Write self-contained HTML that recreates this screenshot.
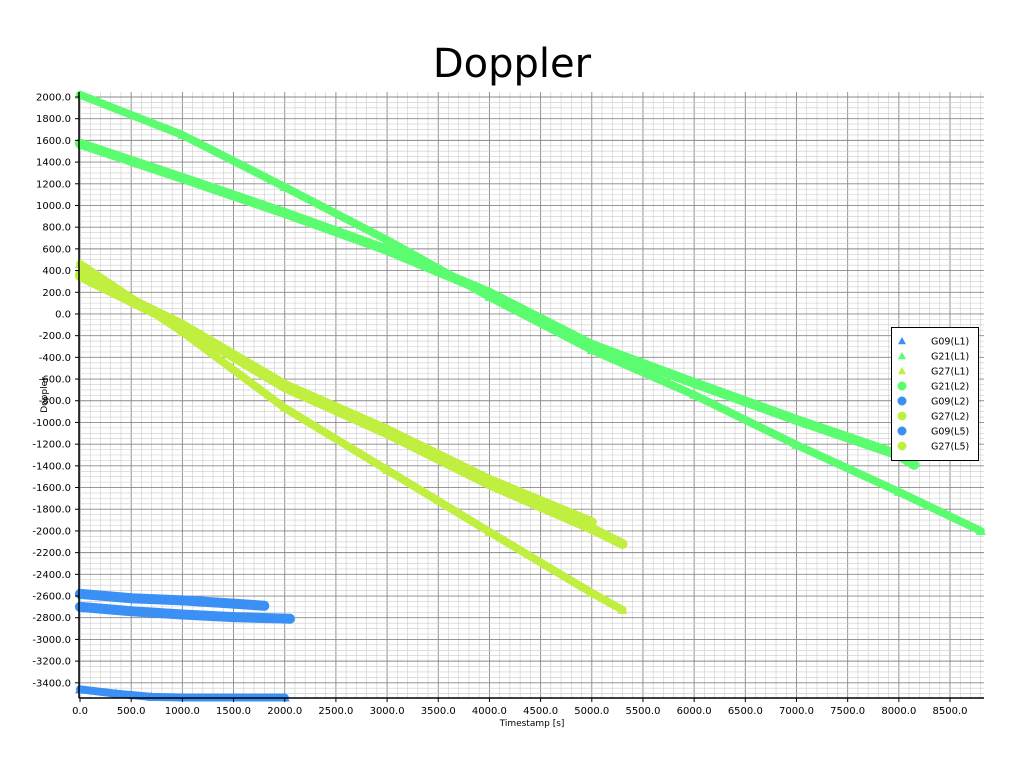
<!DOCTYPE html>
<html><head><meta charset="utf-8"><style>
body{margin:0;background:#fff;}
svg{display:block;font-family:"DejaVu Sans","Liberation Sans",sans-serif;}
</style></head><body>
<svg id="chart" width="1024" height="768" viewBox="0 0 1024 768">
<text x="512" y="77" text-anchor="middle" font-size="40">Doppler</text>
<g id="grid"></g><g id="series"></g><g id="axes"></g>
<text x="532" y="726" text-anchor="middle" font-size="9">Timestamp [s]</text>
<text x="0" y="0" transform="translate(47,395) rotate(-90)" text-anchor="middle" font-size="9">Doppler</text>
<g id="legend"></g>
</svg>
<script>
const seriesNames=["G09(L1)","G21(L1)","G27(L1)","G21(L2)","G09(L2)","G27(L2)","G09(L5)","G27(L5)"];
const seriesColors=["#3a90f5","#5cfc70","#c0ef40","#5cfc70","#3a90f5","#c0ef40","#3a90f5","#c0ef40"];
const seriesMarkers=["tri","tri","tri","dot","dot","dot","dot","dot"];
const g09L1t=[0,350,700,1000,1500,2000];
const g09L1v=[-3460,-3500,-3530,-3535,-3535,-3535];
const g21L1t=[0,1000,2000,3000,4000,5000,6000,7000,8000,8800];
const g21L1v=[2020,1650,1170,682,157,-332,-746,-1207,-1640,-2000];
const g27L1t=[0,1000,2000,3000,4000,5000,5300];
const g27L1v=[461,-166,-866,-1438,-2009,-2571,-2728];
const g21L2t=[0,1000,2000,3000,4000,5000,6000,7000,8000,8150];
const g21L2v=[1570,1253,931,590,194,-286,-636,-977,-1300,-1390];
const g09L2t=[0,500,1000,1500,1800];
const g09L2v=[-2580,-2620,-2640,-2670,-2690];
const g27L2t=[0,1000,2000,3000,4000,5000];
const g27L2v=[360,-101,-654,-1069,-1530,-1920];
const g09L5t=[0,500,1000,1500,2050];
const g09L5v=[-2700,-2740,-2770,-2795,-2810];
const g27L5t=[0,1000,2000,3000,4000,5000,5300];
const g27L5v=[350,-115,-675,-1100,-1570,-1980,-2120];
const seriesT=[g09L1t,g21L1t,g27L1t,g21L2t,g09L2t,g27L2t,g09L5t,g27L5t];
const seriesV=[g09L1v,g21L1v,g27L1v,g21L2v,g09L2v,g27L2v,g09L5v,g27L5v];
const xTicks=[0,500,1000,1500,2000,2500,3000,3500,4000,4500,5000,5500,6000,6500,7000,7500,8000,8500];
const yTicks=[2000,1800,1600,1400,1200,1000,800,600,400,200,0,-200,-400,-600,-800,-1000,-1200,-1400,-1600,-1800,-2000,-2200,-2400,-2600,-2800,-3000,-3200,-3400];

const L=79,R=984,T=92,B=698;
const xMin=-10,xMax=8832,yMax=2046,yMin=-3540;
const X=t=>L+(t-xMin)/(xMax-xMin)*(R-L);
const Y=v=>T+(yMax-v)/(yMax-yMin)*(B-T);
const NS="http://www.w3.org/2000/svg";
function mk(tag,attrs,parent){const e=document.createElementNS(NS,tag);for(const k in attrs)e.setAttribute(k,attrs[k]);parent.appendChild(e);return e;}
const grid=document.getElementById('grid'),axes=document.getElementById('axes'),ser=document.getElementById('series'),leg=document.getElementById('legend');
mk('rect',{x:L,y:T,width:R-L,height:B-T,fill:'#fff'},grid);
for(let t=0;t<=xMax;t+=100){const x=X(t);const maj=t%500===0;
 const l=mk('line',{x1:x,x2:x,y1:T,y2:B,stroke:maj?'#888':'#ccc','stroke-width':maj?0.9:0.6},grid);
 
 }
for(let v=-3500;v<=yMax;v+=50){const y=Y(v);const maj=v%200===0;
 const l=mk('line',{x1:L,x2:R,y1:y,y2:y,stroke:maj?'#888':'#ccc','stroke-width':maj?0.9:0.6},grid);
 
 }
mk('line',{x1:L,x2:L,y1:T,y2:B,stroke:'#000','stroke-width':1.5},axes);
mk('line',{x1:L,x2:R,y1:B,y2:B,stroke:'#000','stroke-width':1.5},axes);
xTicks.forEach(t=>{const x=X(t);
 mk('line',{x1:x,x2:x,y1:B,y2:B+4,stroke:'#000'},axes);
 const tx=mk('text',{x:x,y:B+16,'text-anchor':'middle','font-size':10},axes);tx.textContent=t.toFixed(1);
 
 });
yTicks.forEach(v=>{const y=Y(v);
 mk('line',{x1:L-4,x2:L,y1:y,y2:y,stroke:'#000'},axes);
 const tx=mk('text',{x:L-8,y:y+3.5,'text-anchor':'end','font-size':10},axes);tx.textContent=v.toFixed(1);
 
 });
function marker(type,x,y,c,s,p){
 if(type==='tri') return mk('polygon',{points:`${x},${y-s} ${x-s},${y+s*0.8} ${x+s},${y+s*0.8}`,fill:c},p);
 return mk('circle',{cx:x,cy:y,r:s,fill:c},p);}
seriesT.forEach((ts,i)=>{
 const g=mk('g',{},ser);
 
 
 const pts=ts.map((t,j)=>X(t)+','+Y(seriesV[i][j])).join(' ');
 const w=seriesMarkers[i]==='tri'?8:10;
 mk('polyline',{points:pts,fill:'none',stroke:seriesColors[i],'stroke-width':w,'stroke-linejoin':'round','stroke-linecap':'round'},g);
 ts.forEach((t,j)=>{const m=marker(seriesMarkers[i],X(t),Y(seriesV[i][j]),seriesColors[i],seriesMarkers[i]==='tri'?5:5,g);
  
  });
});
const lb=mk('rect',{x:891.5,y:327.5,width:87,height:133,fill:'#fff',stroke:'#000'},leg);


seriesNames.forEach((n,i)=>{const y=341+i*15;
 const g=mk('g',{},leg);
 
 
 marker(seriesMarkers[i],902,y,seriesColors[i],seriesMarkers[i]==='tri'?4:4.5,g);
 const t=mk('text',{x:931,y:y+3.5,'font-size':9.5},g);t.textContent=n;});
</script>
</body></html>
